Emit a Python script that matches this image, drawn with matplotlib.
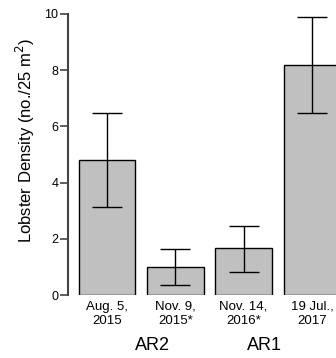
import matplotlib.pyplot as plt

plt.rcParams['font.family'] = ['Liberation Sans', 'DejaVu Sans']

dates = ['Aug. 5,\n2015', 'Nov. 9,\n2015*', 'Nov. 14,\n2016*', '19 Jul.,\n2017']
density = [4.8, 1.0, 1.67, 8.18]
err_low = [3.13, 0.36, 0.82, 6.47]
err_high = [6.47, 1.62, 2.47, 9.89]
groups = ['AR2', 'AR1']

lower = [d - l for d, l in zip(density, err_low)]
upper = [h - d for d, h in zip(density, err_high)]

fig = plt.figure(figsize=(3.36, 3.58), dpi=100)
ax = fig.add_axes([68 / 336, 1 - 295 / 358, 268 / 336, 281 / 358])

x = list(range(len(dates)))
ax.bar(x, density, width=0.83, color='#c0c0c0', edgecolor='black', linewidth=1.0)
ax.errorbar(x, density, yerr=[lower, upper], fmt='none', ecolor='black',
            elinewidth=1.0, capsize=10.5, capthick=1.0)

ax.set_xlim(-0.571, 3.353)
ax.set_ylim(0, 10)
ax.set_yticks([0, 2, 4, 6, 8, 10])
ax.set_xticks(x)
ax.set_xticklabels(dates, fontsize=9.5, linespacing=1.3)
ax.tick_params(axis='x', length=0, pad=4)
ax.tick_params(axis='y', direction='out', length=6, width=1.2, color='#444444',
               labelsize=9, pad=1)
for s in ['top', 'right', 'bottom']:
    ax.spines[s].set_visible(False)
ax.spines['left'].set_color('#444444')
ax.spines['left'].set_linewidth(1.5)

ax.set_ylabel('Lobster Density (no./25 m$^2$)', fontsize=12)
ax.yaxis.set_label_coords(-0.116, 0.55)

fig.text(152 / 336, 1 - 345 / 358, groups[0], fontsize=13, ha='center', va='center')
fig.text(264 / 336, 1 - 345 / 358, groups[1], fontsize=13, ha='center', va='center')

fig.savefig('out.png', dpi=100)
